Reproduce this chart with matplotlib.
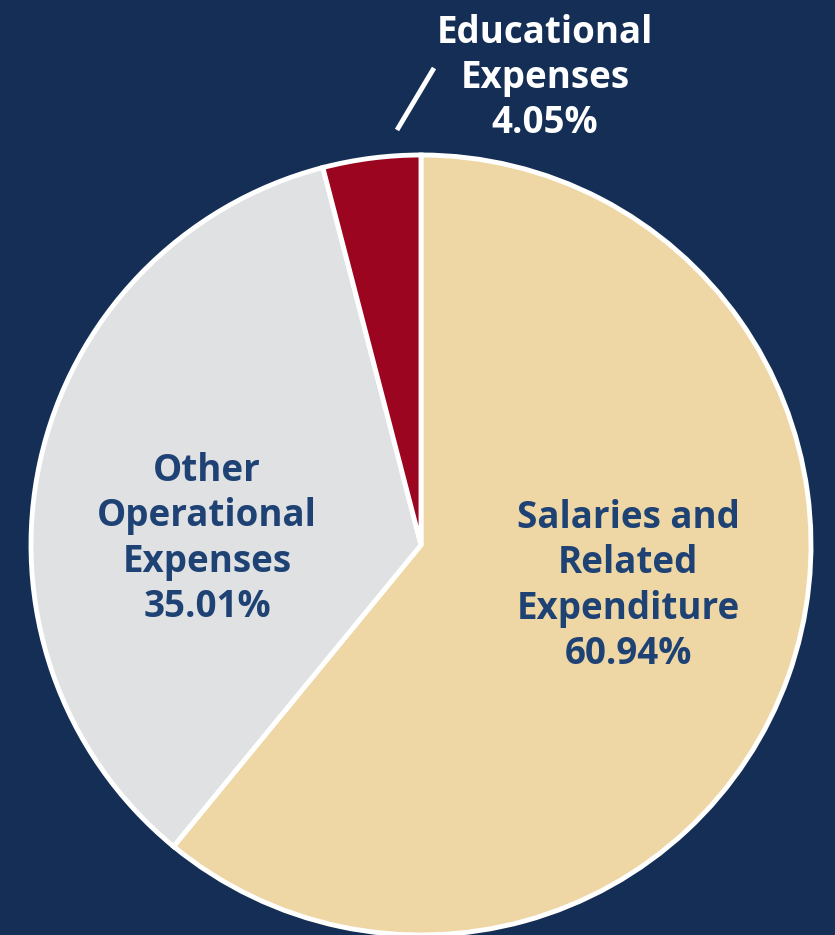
import matplotlib.pyplot as plt

categories = ['Salaries and\nRelated\nExpenditure', 'Other\nOperational\nExpenses', 'Educational\nExpenses']
shares = [60.94, 35.01, 4.05]
colors = ['#eed7a5', '#e0e1e3', '#9b0520']

bg = '#142e55'
navy = '#1f4274'

plt.rcParams['font.family'] = ['Open Sans', 'DejaVu Sans']

fig = plt.figure(figsize=(8.35, 9.35), dpi=100, facecolor=bg)
ax = fig.add_axes([0, 0, 1, 1])
ax.set_facecolor(bg)

ax.pie(shares, colors=colors, startangle=90, counterclock=False,
       center=(421, 935 - 545), radius=390,
       wedgeprops=dict(edgecolor='white', linewidth=3.5))

# pie() resets the limits, so set the pixel frame afterwards
ax.set_xlim(0, 835)
ax.set_ylim(0, 935)
ax.set_aspect('equal')
ax.axis('off')

labels = [f'{c}\n{v:.2f}%' for c, v in zip(categories, shares)]
style = dict(ha='center', va='center', fontsize=26.5, fontweight='bold', linespacing=1.25)
ax.text(628, 935 - 586, labels[0], color=navy, **style)
ax.text(207, 935 - 539, labels[1], color=navy, **style)
ax.text(545, 935 - 78, labels[2], color='white', **style)

# leader line for the small slice
ax.plot([397, 434], [935 - 130, 935 - 68], color='white', lw=3.5, solid_capstyle='butt')

fig.savefig('out.png', dpi=100, facecolor=bg)
